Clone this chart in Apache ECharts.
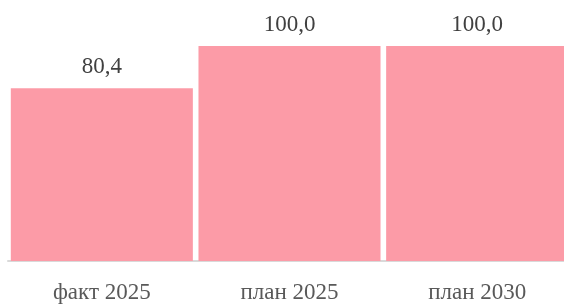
<!DOCTYPE html>
<html><head><meta charset="utf-8">
<script src="https://cdn.jsdelivr.net/npm/echarts@6/dist/echarts.min.js"></script>
<style>html,body{margin:0;padding:0;background:#fff;overflow:hidden}#c{width:572px;height:304px}</style>
</head><body><div id="c"></div>
<script>
var categories = ['факт 2025', 'план 2025', 'план 2030'];
var values = [80.4, 100.0, 100.0];

var chart = echarts.init(document.getElementById('c'), null, {renderer: 'canvas'});
chart.setOption({
  animation: false,
  grid: {left: 8, right: 1, top: 46, bottom: 41, containLabel: false},
  xAxis: {
    type: 'category', data: categories,
    axisLine: {show: true, lineStyle: {color: '#d9d9d9', width: 2}},
    axisTick: {show: false},
    axisLabel: {color: '#595959', fontFamily: 'Liberation Serif', fontSize: 23, margin: 20}
  },
  yAxis: {type: 'value', min: 0, max: 100, show: false, splitLine: {show: false}},
  series: [{
    type: 'bar', data: values, barCategoryGap: '3%',
    itemStyle: {color: '#FC9BA7'},
    label: {
      show: true, position: 'top', distance: 10,
      color: '#404040', fontFamily: 'Liberation Serif', fontSize: 23,
      formatter: function (p) { return p.value.toFixed(1).replace('.', ','); }
    }
  }]
});
</script></body></html>
